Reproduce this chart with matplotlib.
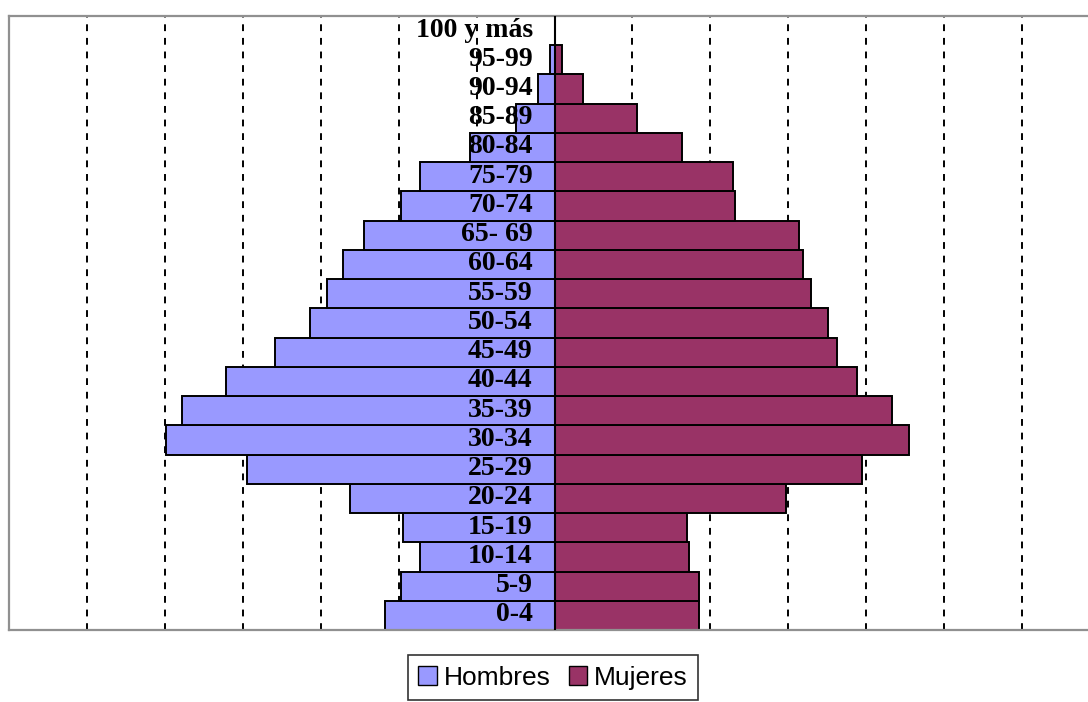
import matplotlib.pyplot as plt
from matplotlib.patches import Patch

# grupos de edad, de abajo hacia arriba
edades = ["0-4", "5-9", "10-14", "15-19", "20-24", "25-29", "30-34", "35-39",
          "40-44", "45-49", "50-54", "55-59", "60-64", "65- 69", "70-74",
          "75-79", "80-84", "85-89", "90-94", "95-99", "100 y más"]

hombres = [2.18, 1.97, 1.72, 1.94, 2.63, 3.94, 4.98, 4.78, 4.21, 3.59, 3.14,
           2.92, 2.72, 2.45, 1.97, 1.72, 1.09, 0.50, 0.21, 0.055, 0.0]
mujeres = [1.86, 1.86, 1.72, 1.70, 2.97, 3.94, 4.55, 4.33, 3.88, 3.62, 3.51,
           3.29, 3.19, 3.14, 2.32, 2.29, 1.63, 1.06, 0.37, 0.10, 0.0]

grid_x = [-6, -5, -4, -3, -2, -1, 1, 2, 3, 4, 5, 6]

azul = "#9999FF"
granate = "#993366"

fig = plt.figure(figsize=(10.88, 7.02), dpi=100)
ax = fig.add_axes([9 / 1088, 1 - 630 / 702, 1091 / 1088, 614 / 702])

y = list(range(len(edades)))

for gx in grid_x:
    ax.axvline(gx, color="black", lw=1.4, ls=(0, (3.5, 3.5)), zorder=1)

ax.barh(y, [-h for h in hombres], height=1.0, color=azul,
        edgecolor="black", linewidth=1.4, zorder=2)
ax.barh(y, mujeres, height=1.0, color=granate,
        edgecolor="black", linewidth=1.4, zorder=2)

ax.axvline(0, color="black", lw=1.5, zorder=3)

for i, lab in enumerate(edades):
    ax.text(-0.28, i + 0.02, lab, ha="right", va="center", fontsize=20,
            family="Liberation Serif", fontweight="bold", zorder=4)

ax.set_xlim(-7, 7)
ax.set_ylim(-0.5, len(edades) - 0.5)
ax.set_xticks([])
ax.set_yticks([])
for s in ax.spines.values():
    s.set_color("#909090")
    s.set_linewidth(1.6)

handles = [Patch(facecolor=azul, edgecolor="black", label="Hombres"),
           Patch(facecolor=granate, edgecolor="black", label="Mujeres")]
leg = fig.legend(handles=handles, loc="upper center",
                 bbox_to_anchor=(553 / 1088, 1 - 655 / 702), ncol=2,
                 borderaxespad=0, frameon=True, fancybox=False,
                 edgecolor="black",
                 prop={"family": "Liberation Sans", "size": 19},
                 handlelength=0.7, handleheight=0.7, handletextpad=0.25,
                 columnspacing=0.7, borderpad=0.4)
leg.get_frame().set_linewidth(1.2)

fig.savefig("out.png", dpi=100)
